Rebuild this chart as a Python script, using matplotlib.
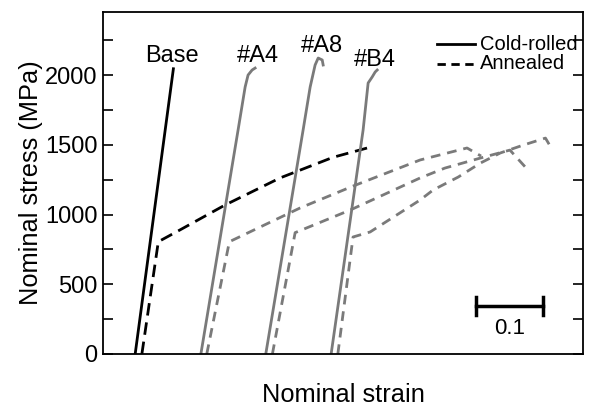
import matplotlib.pyplot as plt
from matplotlib.ticker import MultipleLocator

plt.rcParams['font.family'] = ['Liberation Sans', 'DejaVu Sans']

# strain / stress (strain shifted per sample, as in the figure)
base_cr_x = [0.048, 0.105]
base_cr_y = [0, 2045]
base_an_x = [0.058, 0.0825, 0.115, 0.182, 0.264, 0.343, 0.401]
base_an_y = [0, 805, 890, 1068, 1262, 1410, 1486]

a4_cr_x = [0.146, 0.2015, 0.212, 0.2164, 0.2224, 0.2269]
a4_cr_y = [0, 1606, 1914, 2000, 2036, 2050]
a4_an_x = [0.1548, 0.1885, 0.294, 0.373, 0.473, 0.543, 0.564]
a4_an_y = [0, 805, 1047, 1204, 1391, 1477, 1419]

a8_cr_x = [0.2428, 0.2985, 0.309, 0.3164, 0.321, 0.327, 0.3284]
a8_cr_y = [0, 1606, 1914, 2072, 2122, 2108, 2072]
a8_an_x = [0.2527, 0.2866, 0.3687, 0.473, 0.510, 0.563, 0.607, 0.630]
a8_an_y = [0, 870, 1032, 1262, 1333, 1405, 1462, 1340]

b4_cr_x = [0.3403, 0.388, 0.3955, 0.4015, 0.406, 0.409]
b4_cr_y = [0, 1606, 1943, 1986, 2022, 2036]
b4_an_x = [0.3503, 0.373, 0.3985, 0.473, 0.4925, 0.530, 0.563, 0.5925, 0.627, 0.660, 0.6687]
b4_an_y = [0, 839, 875, 1104, 1176, 1269, 1369, 1441, 1498, 1548, 1477]

labels = ['Base', '#A4', '#A8', '#B4']
label_x = [0.103, 0.231, 0.327, 0.406]
label_y = [2140, 2140, 2210, 2110]

fig = plt.figure(figsize=(5.89, 4.09), dpi=100)
ax = fig.add_axes([103/589, 1 - 354/409, 480/589, 342/409])

gray = '#7a7a7a'
ax.plot(base_cr_x, base_cr_y, color='black', lw=2)
ax.plot(base_an_x, base_an_y, color='black', lw=2, dashes=(4.5, 2.5))
for xs, ys in [(a4_cr_x, a4_cr_y), (a8_cr_x, a8_cr_y), (b4_cr_x, b4_cr_y)]:
    ax.plot(xs, ys, color=gray, lw=2)
for xs, ys in [(a4_an_x, a4_an_y), (a8_an_x, a8_an_y), (b4_an_x, b4_an_y)]:
    ax.plot(xs, ys, color=gray, lw=2, dashes=(3.5, 2.5))

for t, x, y in zip(labels, label_x, label_y):
    ax.text(x, y, t, fontsize=17, ha='center', va='center')

# legend drawn by hand
ax.plot([0.498, 0.555], [2220, 2220], color='black', lw=2)
ax.plot([0.498, 0.555], [2080, 2080], color='black', lw=2, dashes=(3, 2))
ax.text(0.563, 2220, 'Cold-rolled', fontsize=14.5, va='center')
ax.text(0.563, 2080, 'Annealed', fontsize=14.5, va='center')

# scale bar
ax.plot([0.557, 0.657], [344, 344], color='black', lw=2.5)
ax.plot([0.557, 0.557], [280, 410], color='black', lw=2.5)
ax.plot([0.657, 0.657], [280, 410], color='black', lw=2.5)
ax.text(0.607, 185, '0.1', fontsize=16, ha='center', va='center')

ax.set_xlim(0, 0.716)
ax.set_ylim(0, 2452)
ax.set_xticks([])
ax.yaxis.set_major_locator(MultipleLocator(500))
ax.yaxis.set_minor_locator(MultipleLocator(250))
ax.tick_params(axis='y', which='both', direction='in', length=7, width=1.2,
               right=True, labelsize=17, pad=4)
for s in ax.spines.values():
    s.set_linewidth(1.3)

ax.set_xlabel('Nominal strain', fontsize=18.3)
ax.xaxis.set_label_coords(0.5, -0.085)
ax.set_ylabel('Nominal stress (MPa)', fontsize=18.3)
ax.yaxis.set_label_coords(-0.125, 0.5)

fig.savefig('out.png', dpi=100)
